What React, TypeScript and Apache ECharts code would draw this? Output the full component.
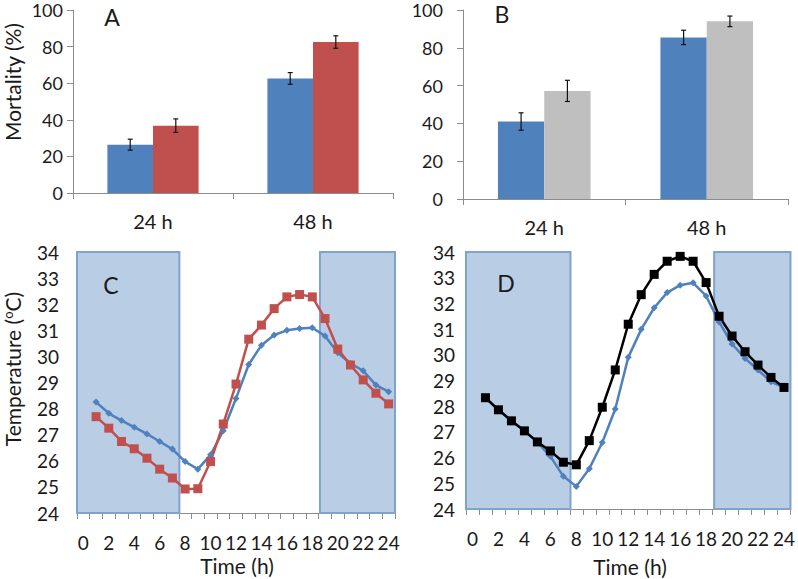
import React, { useEffect, useRef } from "react";
import * as echarts from "echarts";

// ---- Data ----
const barCategories = ["24 h", "48 h"];
const mortalityA1 = [26.4, 62.6];
const errA1 = [3.0, 3.2];
const mortalityA2 = [36.8, 82.5];
const errA2 = [3.7, 3.4];
const mortalityB1 = [41, 85.5];
const errB1 = [4.6, 3.8];
const mortalityB2 = [57.2, 94];
const errB2 = [5.6, 2.8];

const hours = [1, 2, 3, 4, 5, 6, 7, 8, 9, 10, 11, 12, 13, 14, 15, 16, 17, 18, 19, 20, 21, 22, 23, 24];
const tempC_blue = [28.25, 27.82, 27.54, 27.29, 27.03, 26.74, 26.45, 25.97, 25.68, 26.23, 27.15, 28.39, 29.69, 30.43, 30.82, 31.0, 31.07, 31.1, 30.78, 30.14, 29.73, 29.45, 28.9, 28.65];
const tempC_red = [27.69, 27.25, 26.74, 26.46, 26.1, 25.68, 25.34, 24.92, 24.93, 25.97, 27.41, 28.94, 30.66, 31.2, 31.83, 32.28, 32.37, 32.28, 31.45, 30.28, 29.67, 29.1, 28.59, 28.18];
const tempD_black = [28.33, 27.86, 27.43, 27.04, 26.61, 26.26, 25.82, 25.72, 26.66, 27.96, 29.41, 31.19, 32.34, 33.13, 33.64, 33.83, 33.64, 32.81, 31.5, 30.73, 30.12, 29.6, 29.12, 28.73];
const tempD_blue = [28.33, 27.86, 27.43, 27.04, 26.6, 26.05, 25.27, 24.88, 25.57, 26.59, 27.89, 29.9, 30.99, 31.83, 32.42, 32.71, 32.8, 32.29, 31.28, 30.42, 29.86, 29.41, 28.95, 28.73];

const timeTickLabels = [0, 2, 4, 6, 8, 10, 12, 14, 16, 18, 20, 22, 24];
const timeTickBounds = [-0.5, 0.5, 1.5, 2.5, 3.5, 4.5, 5.5, 6.5, 7.5, 8.5, 9.5, 10.5, 11.5, 12.5, 13.5, 14.5, 15.5, 16.5, 17.5, 18.5, 19.5, 20.5, 21.5, 22.5, 23.5, 24.5];
const darkPeriodsC = [[-0.5, 7.55], [18.6, 24.5]];
const darkPeriodsD = [[-0.5, 7.55], [18.62, 24.5]];

const FONT = "Lato";
const TXT = "#1a1a1a";
const AXIS = "#8c8c8c";
const BLUE = "#4f81bd";
const RED = "#c0504d";
const GRAY = "#bfbfbf";
const BAR_GAP = 0.43;
const FS = 19;
const FS_BAR = 20;

function errorSeries(gi: number, vals: number[], errs: number[], side: number) {
  return {
    type: "custom",
    xAxisIndex: gi,
    yAxisIndex: gi,
    z: 10,
    silent: true,
    data: vals.map((v, i) => [i, v, errs[i]]),
    renderItem: (params: any, api: any) => {
      const ci = api.value(0);
      const v = api.value(1);
      const e = api.value(2);
      const catW = api.size([1, 0])[0];
      const off = (side * catW * (1 - BAR_GAP)) / 4;
      const top = api.coord([ci, v + e]);
      const bot = api.coord([ci, v - e]);
      const x = top[0] + off;
      const st = { stroke: "#111", lineWidth: 1.2 };
      return {
        type: "group",
        children: [
          { type: "line", shape: { x1: x, y1: top[1], x2: x, y2: bot[1] }, style: st },
          { type: "line", shape: { x1: x - 2.5, y1: top[1], x2: x + 2.5, y2: top[1] }, style: st },
          { type: "line", shape: { x1: x - 2.5, y1: bot[1], x2: x + 2.5, y2: bot[1] }, style: st },
        ],
      };
    },
  };
}

function barXAxis(gi: number, margin: number) {
  return {
    type: "category",
    gridIndex: gi,
    data: barCategories,
    axisLine: { lineStyle: { color: AXIS, width: 1 } },
    axisTick: { show: true, length: 6, lineStyle: { color: AXIS } },
    axisLabel: { color: TXT, fontFamily: FONT, fontSize: FS_BAR, margin },
    splitLine: { show: false },
  };
}

function barYAxis(gi: number, margin: number) {
  return {
    type: "value",
    gridIndex: gi,
    min: 0,
    max: 100,
    interval: 20,
    axisLine: { show: true, lineStyle: { color: AXIS, width: 1 } },
    axisTick: { show: true, length: 6, lineStyle: { color: AXIS } },
    axisLabel: { color: TXT, fontFamily: FONT, fontSize: 18, margin, lineHeight: 12 },
    splitLine: { show: false },
  };
}

function timeXAxis(gi: number) {
  return {
    type: "value",
    gridIndex: gi,
    min: -0.5,
    max: 24.5,
    axisLine: { lineStyle: { color: AXIS, width: 1 } },
    axisTick: { show: true, length: 6, customValues: timeTickBounds, lineStyle: { color: AXIS } },
    axisLabel: { color: TXT, fontFamily: FONT, fontSize: FS, margin: 20, customValues: timeTickLabels },
    splitLine: { show: false },
  };
}

function tempYAxis(gi: number, margin: number) {
  return {
    type: "value",
    gridIndex: gi,
    min: 24,
    max: 34,
    interval: 1,
    axisLine: { show: true, lineStyle: { color: AXIS, width: 1 } },
    axisTick: { show: true, length: 7, lineStyle: { color: AXIS } },
    axisLabel: { color: TXT, fontFamily: FONT, fontSize: FS, margin, lineHeight: 16 },
    splitLine: { show: false },
  };
}

function shadeSeries(gi: number, periods: number[][]) {
  return {
    type: "line",
    xAxisIndex: gi,
    yAxisIndex: gi,
    data: [],
    z: 1,
    silent: true,
    markArea: {
      silent: true,
      itemStyle: { color: "#b9cde5", borderColor: "#7fa2cf", borderWidth: 2, opacity: 1 },
      data: periods.map((p) => [
        { xAxis: p[0], yAxis: 24 },
        { xAxis: p[1], yAxis: 34 },
      ]),
    },
  };
}

function lineSeries(gi: number, vals: number[], color: string, symbol: string, size: number) {
  return {
    type: "line",
    xAxisIndex: gi,
    yAxisIndex: gi,
    z: 5,
    data: hours.map((h, i) => [h, vals[i]]),
    symbol,
    symbolSize: size,
    showSymbol: true,
    lineStyle: { color, width: 2.5 },
    itemStyle: { color },
  };
}

function barSeries(gi: number, vals: number[], color: string) {
  return {
    type: "bar",
    xAxisIndex: gi,
    yAxisIndex: gi,
    data: vals,
    barGap: "0%",
    barCategoryGap: BAR_GAP * 100 + "%",
    itemStyle: { color },
    z: 3,
  };
}

export default function App() {
  const ref = useRef<HTMLDivElement>(null);
  useEffect(() => {
    if (!ref.current) return;
    const chart = echarts.init(ref.current, undefined, { renderer: "svg" });
    const letter = (t: string, x: number, y: number) => ({
      type: "text",
      x,
      y,
      z: 100,
      style: { text: t, fontFamily: FONT, fontSize: 23, fill: TXT, align: "center", verticalAlign: "middle" },
    });
    const title = (t: string, x: number, y: number, rot: number, extra: any = {}) => ({
      type: "text",
      x,
      y,
      rotation: rot,
      style: { text: t, fontFamily: FONT, fontSize: 21, fill: TXT, align: "center", verticalAlign: "middle", ...extra },
    });
    chart.setOption({
      animation: false,
      backgroundColor: "#ffffff",
      grid: [
        { left: 73, top: 10, width: 320, height: 183 },
        { left: 463, top: 10, width: 325, height: 189 },
        { left: 77, top: 252, width: 318, height: 261 },
        { left: 466, top: 252, width: 329, height: 257 },
      ],
      xAxis: [barXAxis(0, 18), barXAxis(1, 18), timeXAxis(2), timeXAxis(3)],
      yAxis: [barYAxis(0, 10), barYAxis(1, 20), tempYAxis(2, 18), tempYAxis(3, 11)],
      series: [
        barSeries(0, mortalityA1, BLUE),
        barSeries(0, mortalityA2, RED),
        errorSeries(0, mortalityA1, errA1, -1),
        errorSeries(0, mortalityA2, errA2, 1),
        barSeries(1, mortalityB1, BLUE),
        barSeries(1, mortalityB2, GRAY),
        errorSeries(1, mortalityB1, errB1, -1),
        errorSeries(1, mortalityB2, errB2, 1),
        shadeSeries(2, darkPeriodsC),
        lineSeries(2, tempC_blue, BLUE, "diamond", 7),
        lineSeries(2, tempC_red, RED, "rect", 9),
        shadeSeries(3, darkPeriodsD),
        lineSeries(3, tempD_blue, BLUE, "diamond", 7),
        lineSeries(3, tempD_black, "#000000", "rect", 9),
      ],
      graphic: [
        letter("A", 112, 17),
        letter("B", 502, 14),
        letter("C", 111, 285),
        letter("D", 506, 283),
        title("Mortality (%)", 12, 82, Math.PI / 2),
        title("Temperature ({sup|o}C)", 12, 369, Math.PI / 2, {
          rich: { sup: { fontFamily: FONT, fontSize: 13, fill: TXT, verticalAlign: "top", padding: [0, 0, 7, 0] } },
        }),
        title("Time (h)", 237, 565, 0),
        title("Time (h)", 630, 566, 0),
      ],
    });
    return () => chart.dispose();
  }, []);
  return <div ref={ref} style={{ position: "absolute", left: 0, top: 0, width: 798, height: 579 }} />;
}
